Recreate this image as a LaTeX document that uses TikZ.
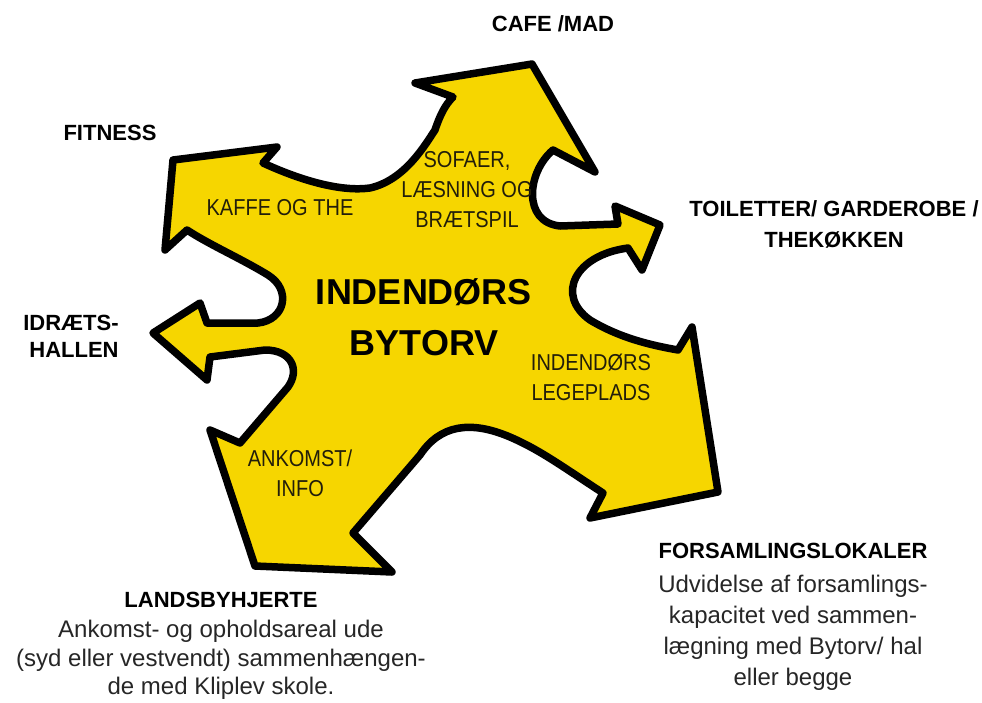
\documentclass[tikz,border=0pt]{standalone}
\usepackage{fontspec}
\setmainfont{Liberation Sans}
\newfontfamily\condfont[FakeStretch=0.87]{Liberation Sans}
\definecolor{bytorvyellow}{RGB}{246,214,0}
\definecolor{inktext}{RGB}{34,30,10}
\begin{document}
\begin{tikzpicture}[x=1pt,y=-1pt,
  outline/.style={draw=black,line width=7.5pt,line join=round,fill=bytorvyellow},
  headlbl/.style={font=\fontsize{22}{26}\selectfont\bfseries,anchor=base,inner sep=0pt,text=black},
  bodylbl/.style={font=\fontsize{24}{28}\selectfont,anchor=base,inner sep=0pt,text=black!85},
  innerlbl/.style={font=\condfont\fontsize{23}{27}\selectfont,anchor=base,inner sep=0pt,text=inktext},
  biglbl/.style={font=\fontsize{36}{40}\selectfont\bfseries,anchor=base,inner sep=0pt,text=black}]
\useasboundingbox (0,0) rectangle (982,702);

% star of six arrows
\path[outline]
  (415,83) -- (532,64) -- (595,172) -- (553,150)
  .. controls (527,172) and (522,222) .. (560,226) -- (618,224)
  -- (615,206) -- (660,225) -- (642,270) -- (628,248)
  .. controls (575,255) and (555,295) .. (590,320)
  .. controls (620,338) and (650,345) .. (678,350)
  -- (692,327) -- (718,492) -- (590,518) -- (603,493)
  .. controls (560,465) and (540,450) .. (510,437)
  .. controls (470,420) and (440,425) .. (420,455) -- (353,533)
  -- (392,572) -- (255,566) -- (210,430) -- (240,443)
  -- (288,387) .. controls (300,370) and (292,350) .. (265,350) -- (210,357)
  -- (207,380) -- (153,333) -- (200,303) -- (207,323)
  -- (258,323) .. controls (285,320) and (292,290) .. (268,275)
  .. controls (240,258) and (210,245) .. (187,230)
  -- (165,250) -- (173,160) -- (277,147) -- (263,163)
  .. controls (300,180) and (340,192) .. (370,188)
  .. controls (405,180) and (425,145) .. (435,130)
  .. controls (440,115) and (445,105) .. (453,97) -- cycle;

% labels inside
\node[innerlbl] (kaffe) at (280,215) {KAFFE OG THE};
\node[innerlbl] (sofa1) at (467,167) {SOFAER,};
\node[innerlbl] (sofa2) at (467,197) {LÆSNING OG};
\node[innerlbl] (sofa3) at (467,227) {BRÆTSPIL};
\node[biglbl] (main1) at (424,304) {INDENDØRS};
\node[biglbl] (main2) at (424,355) {BYTORV};
\node[innerlbl] (lege1) at (591,370) {INDENDØRS};
\node[innerlbl] (lege2) at (591,400) {LEGEPLADS};
\node[innerlbl] (ank1) at (300,466) {ANKOMST/};
\node[innerlbl] (ank2) at (300,496) {INFO};

% labels outside
\node[headlbl] (cafe) at (553,31) {CAFE /MAD};
\node[headlbl] (fitness) at (110,140) {FITNESS};
\node[headlbl] (toil1) at (834,216) {TOILETTER/ GARDEROBE /};
\node[headlbl] (toil2) at (834,247) {THEKØKKEN};
\node[headlbl] (idr1) at (71,330) {IDRÆTS-};
\node[headlbl] (idr2) at (74,357) {HALLEN};
\node[headlbl] (fors) at (793,558) {FORSAMLINGSLOKALER};
\node[bodylbl] (fors1) at (793,592) {Udvidelse af forsamlings-};
\node[bodylbl] (fors2) at (793,623) {kapacitet ved sammen-};
\node[bodylbl] (fors3) at (793,654) {lægning med Bytorv/ hal};
\node[bodylbl] (fors4) at (793,685) {eller begge};
\node[headlbl] (land) at (221,607) {LANDSBYHJERTE};
\node[bodylbl] (land1) at (221,637) {Ankomst- og opholdsareal ude};
\node[bodylbl] (land2) at (221,666) {(syd eller vestvendt) sammenhængen-};
\node[bodylbl] (land3) at (221,694) {de med Kliplev skole.};
\end{tikzpicture}
\end{document}
